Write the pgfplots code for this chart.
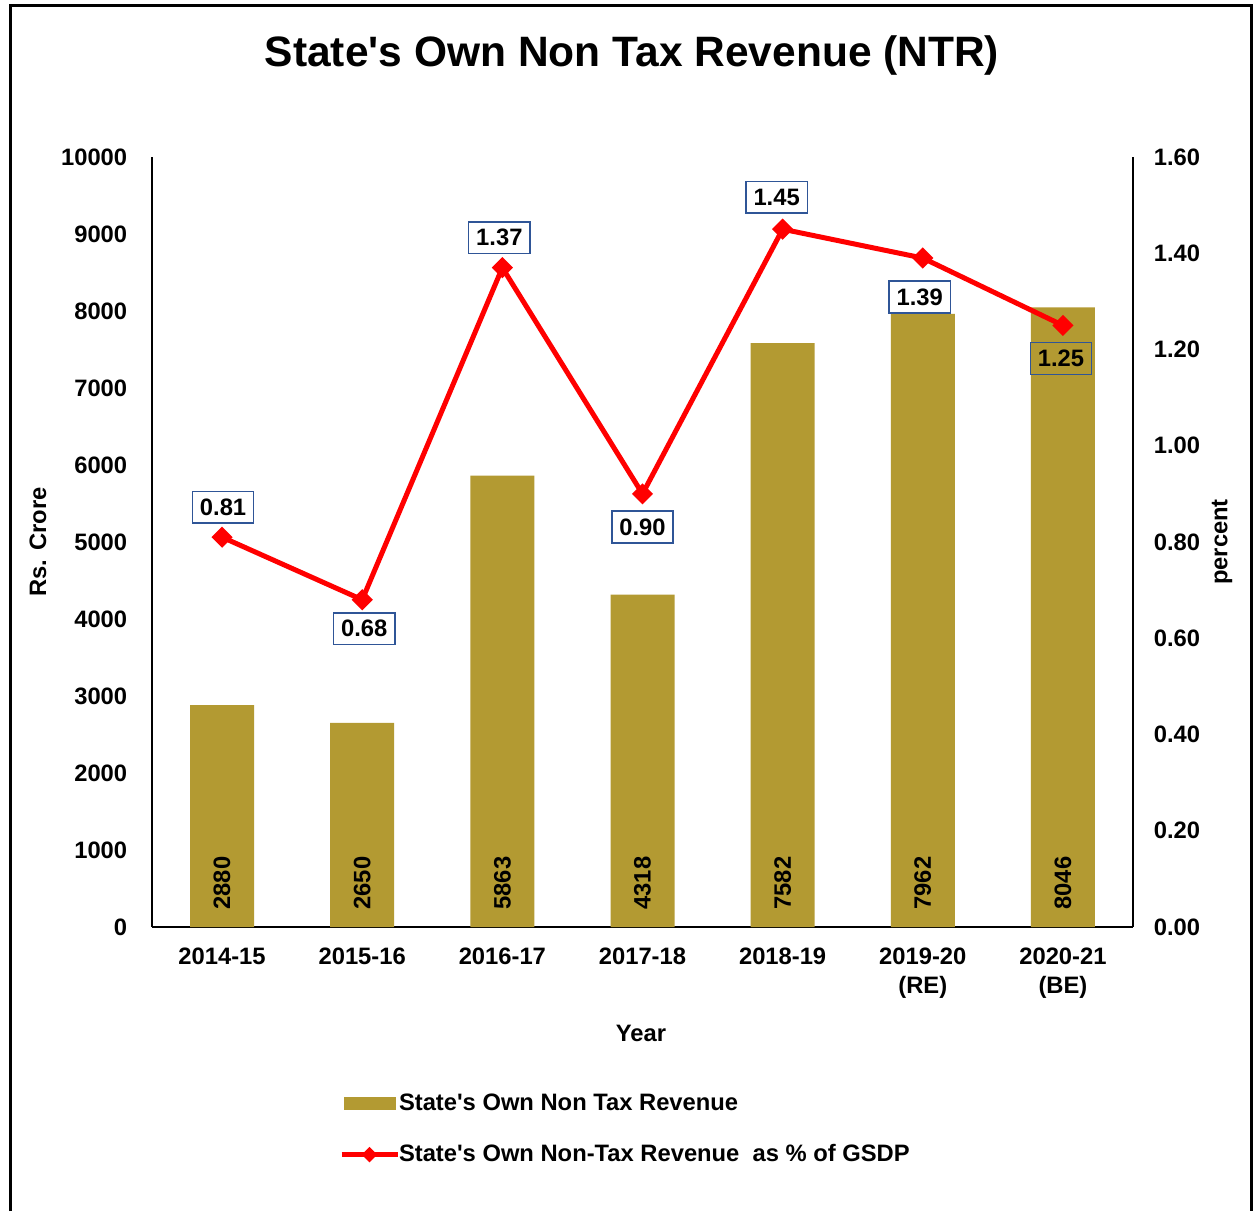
\documentclass[border=0pt]{standalone}
\usepackage{pgfplots}
\pgfplotsset{compat=1.18}
\usepackage{pgfplotstable}
\usepackage{fontspec}
\setmainfont{Liberation Sans}[Ligatures=TeXOff]

\definecolor{ntrbar}{RGB}{179,154,50}
\definecolor{ntrline}{RGB}{255,0,0}
\definecolor{boxblue}{RGB}{47,85,151}
\newcommand\tfont{\fontsize{9.5}{11.6}\selectfont\bfseries}

% year index, NTR (Rs. crore), NTR as % of GSDP, label offsets (pt)
\pgfplotstableread{
x ntr pct dy dx
0 2880 0.81 12 0.4
1 2650 0.68 -11.6 0.8
2 5863 1.37 12 -1.2
3 4318 0.90 -13.2 0
4 7582 1.45 12.8 -2.4
5 7962 1.39 -15.6 -1.2
6 8046 1.25 -13.2 -0.8
}\ntrdata

\begin{document}
\begin{tikzpicture}
\useasboundingbox (-60.8pt,-113.6pt) rectangle (441.2pt,370.8pt);

\begin{axis}[
    at={(0,0)}, anchor=south west,
    scale only axis, width=392.4pt, height=308pt,
    xmin=-0.5, xmax=6.5, ymin=0, ymax=10000,
    axis x line*=bottom, axis y line*=left,
    axis line style={line width=0.8pt, -},
    major tick length=0pt,
    xtick={0,...,6},
    xticklabels={2014-15,2015-16,2016-17,2017-18,2018-19,{2019-20\\(RE)},{2020-21\\(BE)}},
    xticklabel style={align=center, font=\tfont, yshift=-4.8pt},
    ytick={0,1000,...,10000},
    scaled y ticks=false,
    yticklabel style={font=\tfont, xshift=-6.4pt},
    /pgf/number format/1000 sep={},
    /pgf/number format/assume math mode=true,
    xlabel={Year}, ylabel={Rs. Crore},
    xlabel style={font=\tfont, at={(axis description cs:0.4985,-0.1377)}, anchor=center},
    ylabel style={font=\tfont, at={(axis description cs:-0.1162,0.5)}, anchor=center},
    legend style={at={(axis description cs:0.1825,-0.203)}, anchor=north west,
        draw=none, font=\tfont, row sep=8pt, legend cell align=left,
        /tikz/every odd column/.append style={column sep=-2.4pt}},
]
\addplot[ybar, bar width=25.6pt, fill=ntrbar, draw=none,
    legend image code/.code={\fill[ntrbar] (0pt,-2.6pt) rectangle (20.8pt,2.6pt);}]
    table[x=x, y=ntr]{\ntrdata};
\addlegendentry{State's Own Non Tax Revenue}
\addplot[draw=none, mark=none, forget plot,
    nodes near coords={\pgfmathprintnumber[fixed,precision=0,1000 sep={}]{\pgfplotspointmeta}},
    point meta=explicit,
    every node near coord/.style={rotate=90, anchor=west, font=\tfont,
        inner xsep=6.8pt, inner ysep=0pt}]
    table[x=x, y expr=0, meta=ntr]{\ntrdata};
\addlegendimage{legend image code/.code={
    \draw[ntrline, line width=2pt] (-0.8pt,0pt) -- (21.6pt,0pt);
    \fill[ntrline] (10.4pt,0pt) +(-2.8pt,0pt) -- +(0pt,2.8pt) -- +(2.8pt,0pt) -- +(0pt,-2.8pt) -- cycle;}}
\addlegendentry{State's Own Non-Tax Revenue\ \ as \% of GSDP}
\end{axis}

\begin{axis}[
    at={(0,0)}, anchor=south west,
    scale only axis, width=392.4pt, height=308pt,
    xmin=-0.5, xmax=6.5, ymin=0, ymax=1.6,
    axis y line*=right, axis x line=none,
    axis line style={line width=0.8pt, -},
    major tick length=0pt,
    ytick={0,0.2,0.4,0.6,0.8,1.0,1.2,1.4,1.6},
    yticklabel style={font=\tfont, xshift=4.8pt},
    y tick label style={/pgf/number format/fixed, /pgf/number format/zerofill,
        /pgf/number format/precision=2},
    /pgf/number format/assume math mode=true,
    ylabel={percent},
    ylabel style={font=\tfont, at={(axis description cs:1.0907,0.5)}, anchor=center},
]
\addplot[ntrline, line width=2pt, mark=square*, mark size=2pt,
    mark options={rotate=45, solid},
    nodes near coords={\pgfmathprintnumber[fixed,zerofill,precision=2]{\pgfplotspointmeta}},
    point meta=explicit,
    visualization depends on={\thisrow{dy} \as \ldy},
    visualization depends on={\thisrow{dx} \as \ldx},
    every node near coord/.style={draw=boxblue, fill=none, line width=0.6pt, text=black,
        font=\tfont, inner sep=3pt, anchor=center, yshift=\ldy pt, xshift=\ldx pt}]
    table[x=x, y=pct, meta=pct]{\ntrdata};
\end{axis}

\node[font=\fontsize{17}{20}\selectfont\bfseries] at (192pt,348.4pt)
    {State's Own Non Tax Revenue (NTR)};
\draw[line width=1.2pt] (-56.4pt,-113.6pt) -- (-56.4pt,368.4pt)
    -- (439.6pt,368.4pt) -- (439.6pt,-113.6pt);
\end{tikzpicture}
\end{document}
